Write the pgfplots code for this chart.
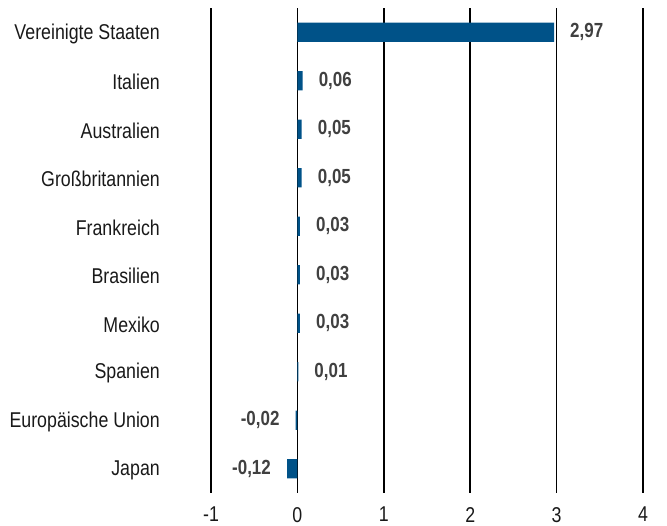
\documentclass[border=0pt]{standalone}
\usepackage{fontspec}
\setmainfont{Liberation Sans}[FakeStretch=0.83]
\usepackage{pgfplots}
\pgfplotsset{compat=1.18}
\usetikzlibrary{calc}

\definecolor{barblue}{RGB}{0,82,136}
\definecolor{valgray}{RGB}{64,64,64}

% Veraenderung je Land, von oben nach unten
\pgfplotstableread{
pos value label
0 2.97 2,97
1 0.06 0,06
2 0.05 0,05
3 0.05 0,05
4 0.03 0,03
5 0.03 0,03
6 0.03 0,03
7 0.01 0,01
}\postable
\pgfplotstableread{
pos value label
8 -0.02 -0,02
9 -0.12 -0,12
}\negtable

\begin{document}
\begin{tikzpicture}
\begin{axis}[
    scale only axis,
    width=432bp, height=485bp,
    xmin=-1, xmax=4,
    ymin=-0.5, ymax=9.5,
    y dir=reverse,
    xtick={-1,0,1,2,3,4},
    xticklabels={-1,0,1,2,3,4},
    ytick={0,...,9},
    yticklabels={Vereinigte Staaten, Italien, Australien, Großbritannien, Frankreich, Brasilien, Mexiko, Spanien, Europäische Union, Japan},
    axis line style={draw=none},
    major tick style={draw=none},
    major tick length=0pt,
    xmajorgrids,
    grid style={black, line width=1.5bp},
    ticklabel style={font=\fontsize{21.5}{24}\selectfont, text=black!90},
    yticklabel style={anchor=east, inner sep=0pt, xshift=-51bp, yshift=-1.5bp},
    xticklabel style={anchor=north, inner sep=0pt, yshift=-14bp},
    xbar, bar width=19.4bp, bar shift=0pt,
    nodes near coords, point meta=explicit symbolic,
]
\addplot[fill=barblue, draw=none,
    nodes near coords style={anchor=west, font=\bfseries\fontsize{20.5}{24}\selectfont, text=valgray, inner xsep=16bp, inner ysep=0pt}]
    table[x=value, y=pos, meta=label] {\postable};
\addplot[fill=barblue, draw=none,
    nodes near coords style={anchor=east, font=\bfseries\fontsize{20.5}{24}\selectfont, text=valgray, inner xsep=16bp, inner ysep=0pt}]
    table[x=value, y=pos, meta=label] {\negtable};
\end{axis}
\path[use as bounding box] ($(current axis.south west)+(-211bp,-33bp)$) rectangle ($(current axis.north east)+(24bp,8bp)$);
\end{tikzpicture}
\end{document}
